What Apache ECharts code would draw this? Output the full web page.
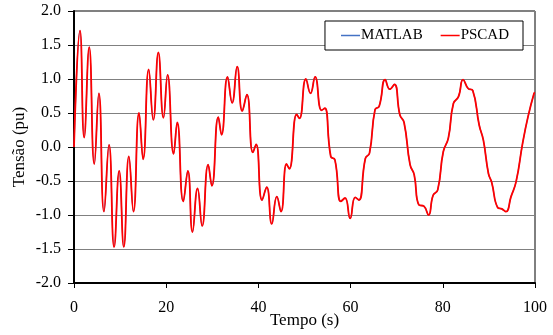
<!DOCTYPE html>
<html>
<head>
<meta charset="utf-8">
<script src="https://cdn.jsdelivr.net/npm/echarts@6/dist/echarts.min.js"></script>
<style>html,body{margin:0;padding:0;background:#fff}#c{width:553px;height:335px}</style>
</head>
<body>
<div id="c"></div>
<script>
var tempo = [0,1.3,2.2,3.3,4.4,5.4,6.5,7.6,8.7,9.8,
10.8,11.9,12.9,14.1,15.0,16.2,17.2,18.3,19.4,20.3,
21.6,22.4,23.7,24.7,25.7,26.8,27.8,29.1,29.9,31.3,
32.0,33.3,34.3,35.4,36.5,37.5,38.8,39.5,40.8,41.8,
42.9,44.0,44.9,46.1,46.7,48.3,48.9,50.3,51.3,52.3,
53.7,54.4,55.7,56.6,57.9,58.8,59.9,61.0,61.8,63.2,
64.1,65.3,66.2,67.5,68.5,69.5,70.7,71.6,72.9,73.8,
74.8,75.9,76.9,77.9,78.9,80.1,81.2,82.3,83.4,84.4,
85.5,86.5,87.9,88.8,89.9,90.6,91.9,92.8,93.7,94.8,
95.9,97.3,98.5,99.8,100];
var tensao = [0,1.71,0.14,1.47,-0.25,0.79,-0.95,0.03,-1.47,-0.35,
-1.47,-0.14,-0.95,0.50,-0.18,1.14,0.40,1.39,0.43,1.06,
-0.10,0.36,-0.80,-0.35,-1.25,-0.61,-1.16,-0.26,-0.57,0.44,
0.18,1.03,0.65,1.18,0.53,0.77,-0.08,0.04,-0.78,-0.59,
-1.13,-0.73,-0.95,-0.25,-0.32,0.48,0.42,1.00,0.79,1.03,
0.54,0.57,-0.14,-0.19,-0.80,-0.75,-1.05,-0.74,-0.78,-0.17,
-0.09,0.55,0.60,0.99,0.85,0.92,0.47,0.36,-0.26,-0.41,
-0.85,-0.87,-1.00,-0.71,-0.63,-0.07,0.13,0.64,0.74,0.99,
0.86,0.83,0.32,0.10,-0.39,-0.52,-0.89,-0.91,-0.95,-0.73,
-0.51,0.05,0.45,0.79,0.80];
var seriesNames = ['MATLAB','PSCAD'];
var seriesColors = ['#4472c4','#ff0000'];

var pts = tempo.map(function(t,i){return [t,tensao[i]];});
var font = '"Liberation Serif","Times New Roman",serif';
var chart = echarts.init(document.getElementById('c'));
chart.setOption({
  animation:false,
  textStyle:{fontFamily:font},
  grid:{left:74,right:18,top:11,bottom:52,outerBoundsMode:'none',containLabel:false,show:true,borderColor:'#000',borderWidth:1,backgroundColor:'transparent'},
  legend:{
    right:30,top:21,orient:'horizontal',
    backgroundColor:'#fff',borderColor:'#000',borderWidth:1,borderRadius:0,
    padding:[7,14,7,16],itemGap:18,itemWidth:19,itemHeight:1.5,
    textStyle:{fontFamily:font,fontSize:15,color:'#000',padding:[0,0,0,-4]},
    data:[{name:seriesNames[0],icon:'rect'},{name:seriesNames[1],icon:'rect'}]
  },
  xAxis:{
    type:'value',min:0,max:100,interval:20,
    name:'Tempo (s)',nameLocation:'middle',nameGap:29,nameMoveOverlap:false,
    nameTextStyle:{fontFamily:font,fontSize:17,color:'#000'},
    axisLine:{show:true,onZero:false,lineStyle:{color:'#000',width:2}},
    axisTick:{show:true,length:5,lineStyle:{color:'#000',width:1}},
    axisLabel:{fontFamily:font,fontSize:16,color:'#000',margin:17},
    splitLine:{show:false}
  },
  yAxis:{
    type:'value',min:-2,max:2,interval:0.5,
    name:'Tensão (pu)',nameLocation:'middle',nameGap:46,nameRotate:90,nameMoveOverlap:false,
    nameTextStyle:{fontFamily:font,fontSize:17,color:'#000'},
    axisLine:{show:true,onZero:false,lineStyle:{color:'#000',width:2}},
    axisTick:{show:true,length:6,lineStyle:{color:'#000',width:1}},
    axisLabel:{fontFamily:font,fontSize:16,color:'#000',margin:13,formatter:function(v){return v.toFixed(1);}},
    splitLine:{show:true,lineStyle:{color:'#808080',width:1}}
  },
  series:[
    {name:seriesNames[0],type:'line',data:pts,smooth:0.5,showSymbol:false,symbol:'none',
     lineStyle:{color:seriesColors[0],width:1.2},itemStyle:{color:seriesColors[0]},z:2},
    {name:seriesNames[1],type:'line',data:pts,smooth:0.5,showSymbol:false,symbol:'none',
     lineStyle:{color:seriesColors[1],width:1.8},itemStyle:{color:seriesColors[1]},z:3}
  ]
});
</script>
</body>
</html>
